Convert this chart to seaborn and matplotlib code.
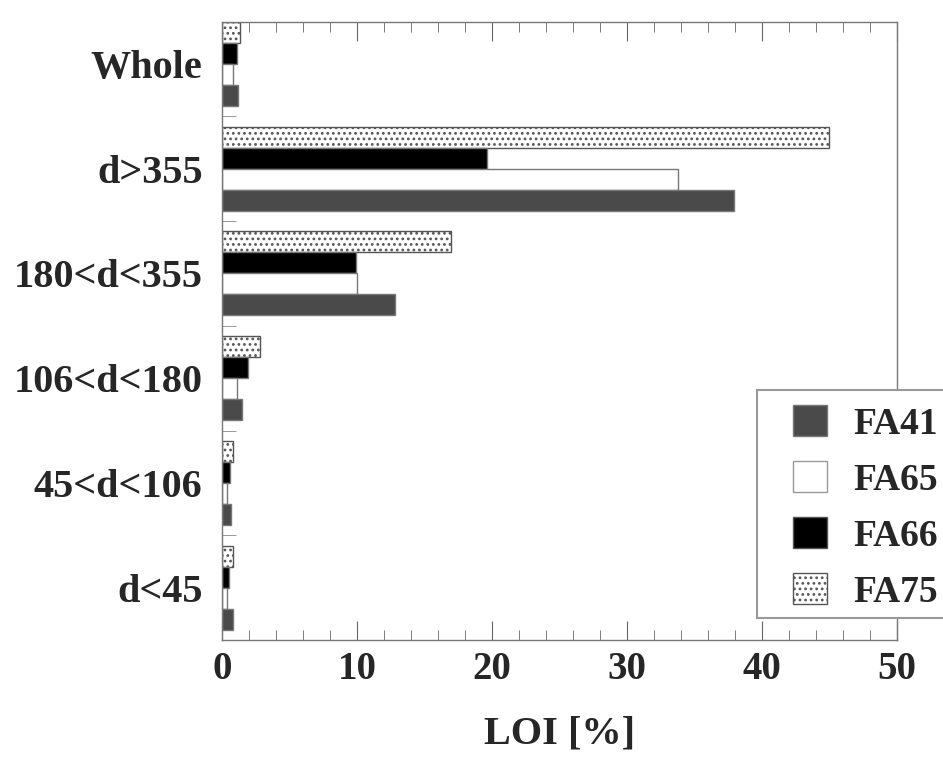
import pandas as pd
import seaborn as sns
import matplotlib.pyplot as plt
from matplotlib.ticker import MultipleLocator, FixedLocator
from matplotlib.patches import Patch, Rectangle

# size classes, top to bottom
classes = ['Whole', 'd>355', '180<d<355', '106<d<180', '45<d<106', 'd<45']
# LOI [%] per fly ash sample
fa41 = [1.2, 37.9, 12.8, 1.5, 0.7, 0.8]
fa65 = [0.8, 33.8, 10.0, 1.1, 0.4, 0.4]
fa66 = [1.1, 19.6, 9.9, 1.9, 0.6, 0.5]
fa75 = [1.3, 45.0, 17.0, 2.8, 0.8, 0.8]

samples = {'FA41': fa41, 'FA65': fa65, 'FA66': fa66, 'FA75': fa75}
df = pd.concat([pd.DataFrame({'cls': classes, 'sample': k, 'loi': v})
                for k, v in samples.items()], ignore_index=True)

sns.set_style('ticks')
plt.rcParams['font.family'] = ['Liberation Serif', 'DejaVu Serif']
plt.rcParams['font.weight'] = 'bold'
plt.rcParams['hatch.linewidth'] = 1.2

# draw order within a group: FA75 on top, FA41 at the bottom
hue_order = ['FA75', 'FA66', 'FA65', 'FA41']
palette = {'FA41': '#4a4a4a', 'FA65': 'white', 'FA66': 'black', 'FA75': 'white'}

fig, ax = plt.subplots(figsize=(9.43, 7.59), dpi=100)
sns.barplot(data=df, y='cls', x='loi', hue='sample', order=classes,
            hue_order=hue_order, palette=palette, width=0.8,
            edgecolor='#777777', linewidth=1, legend=False, ax=ax)

for cont, name in zip(ax.containers, hue_order):
    for p in cont:
        if name == 'FA75':
            p.set_hatch('...')
            p.set_edgecolor('#555555')

ax.set_xlim(0, 50)
ax.set_ylim(5.5, -0.4)
ax.xaxis.set_major_locator(MultipleLocator(10))
ax.xaxis.set_minor_locator(MultipleLocator(2))
ax.yaxis.set_minor_locator(FixedLocator([i - 0.5 for i in range(7)]))
ax.tick_params(axis='x', which='both', direction='in', top=True,
               color='#666666', labelsize=28, pad=8)
ax.tick_params(axis='x', which='major', length=14)
ax.tick_params(axis='x', which='minor', length=7)
ax.tick_params(axis='y', which='major', direction='in', length=5,
               color='#888888', labelsize=29, pad=14)
ax.tick_params(axis='y', which='minor', direction='in', length=10,
               color='#888888')
for s in ax.spines.values():
    s.set_visible(True)
    s.set_color('#777777')
    s.set_linewidth(1)

ax.set_xlabel('LOI [%]', fontsize=29, fontweight='bold', labelpad=20)
ax.set_ylabel('')

# legend box (runs off the right edge of the figure)
fig.patches.append(Rectangle((0.803, 0.186), 0.25, 0.300,
                             transform=fig.transFigure, facecolor='white',
                             edgecolor='#999999', linewidth=1.5, zorder=5))

# legend in FA41..FA75 order
handles = [
    Patch(facecolor='#4a4a4a', edgecolor='#777777', label='FA41'),
    Patch(facecolor='white', edgecolor='#999999', label='FA65'),
    Patch(facecolor='black', edgecolor='#555555', label='FA66'),
    Patch(facecolor='white', edgecolor='#555555', hatch='...', label='FA75'),
]
leg = fig.legend(handles=handles, loc='upper left',
                 bbox_to_anchor=(0.8409, 0.466), fontsize=27,
                 frameon=False, handlelength=0.9, handleheight=0.9,
                 labelspacing=0.52, borderpad=0, handletextpad=0.7,
                 borderaxespad=0)
leg.set_zorder(6)

plt.subplots_adjust(left=0.2354, right=0.9512, top=0.971, bottom=0.1568)
plt.savefig('out.png', dpi=100)
